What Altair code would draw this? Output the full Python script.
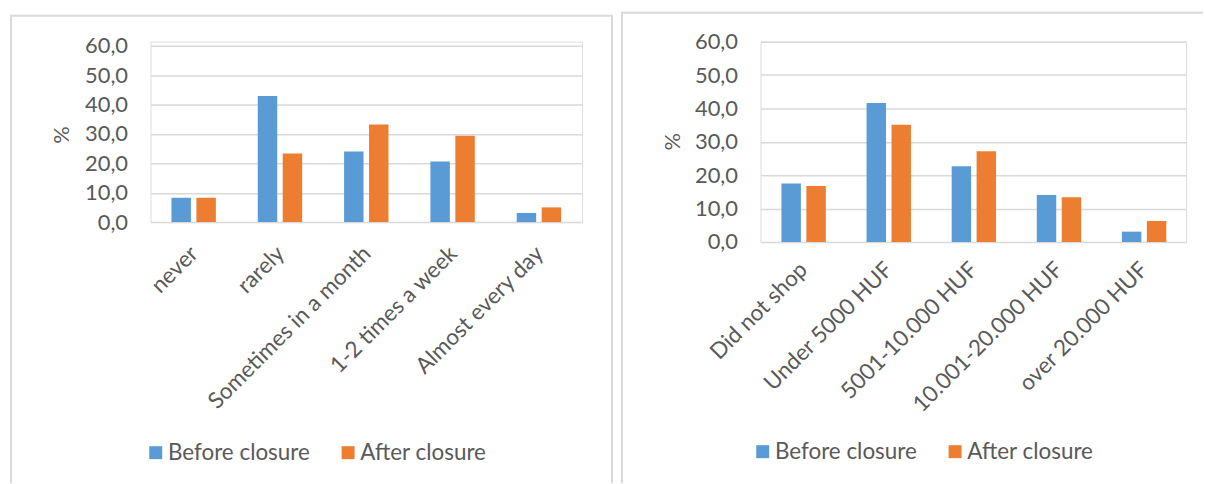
import altair as alt
import pandas as pd

# Survey results: share of respondents (%) before and after the closure
periods = ["Before closure", "After closure"]
period_colors = ["#5B9BD5", "#ED7D31"]

freq_categories = ["never", "rarely", "Sometimes in a month", "1-2 times a week", "Almost every day"]
freq_before = [8.3, 42.9, 24.0, 20.6, 3.1]
freq_after = [8.3, 23.3, 33.2, 29.4, 5.0]

spend_categories = ["Did not shop", "Under 5000 HUF", "5001-10.000 HUF", "10.001-20.000 HUF", "over 20.000 HUF"]
spend_before = [17.5, 41.6, 22.7, 14.1, 3.1]
spend_after = [16.8, 35.1, 27.2, 13.4, 6.3]

y_ticks = [0, 10, 20, 30, 40, 50, 60]

FONT = "Lato"
TEXT = "#595959"
GRID = "#D9D9D9"
FRAME = "#D9D9D9"


def long_table(categories, before, after):
    rows = []
    for cat, b, a in zip(categories, before, after):
        rows.append({"category": cat, "period": periods[0], "value": b})
        rows.append({"category": cat, "period": periods[1], "value": a})
    return pd.DataFrame(rows)


def frame_rule(x, x2=None, y=None, y2=None):
    enc = {"x": alt.value(x), "y": alt.value(y)}
    if x2 is not None:
        enc["x2"] = alt.value(x2)
    if y2 is not None:
        enc["y2"] = alt.value(y2)
    return (
        alt.Chart(pd.DataFrame({"k": [0]}))
        .mark_rule(color=FRAME, strokeWidth=2)
        .encode(**enc)
    )


def panel(categories, before, after, width, height, ymax,
          title_x, title_y, legend_x, legend_y, legend_gap,
          label_pad, frame_rules):
    df = long_table(categories, before, after)
    bars = (
        alt.Chart(df)
        .mark_bar()
        .encode(
            x=alt.X(
                "category:N",
                sort=categories,
                scale=alt.Scale(paddingInner=0, paddingOuter=0),
                axis=alt.Axis(
                    title=None,
                    labelAngle=315,
                    labelFont=FONT,
                    labelFontSize=22.5,
                    labelColor=TEXT,
                    labelPadding=label_pad,
                    labelOffset=-7,
                    domain=False,
                    ticks=False,
                    labelOverlap=False,
                    labelLimit=400,
                ),
            ),
            xOffset=alt.XOffset(
                "period:N",
                sort=periods,
                scale=alt.Scale(paddingInner=0.22, paddingOuter=0.84),
            ),
            y=alt.Y(
                "value:Q",
                scale=alt.Scale(domain=[0, ymax], nice=False, zero=True),
                axis=alt.Axis(
                    title="%",
                    values=y_ticks,
                    labelExpr="replace(format(datum.value, '.1f'), '.', ',')",
                    labelFont=FONT,
                    labelFontSize=22,
                    labelColor=TEXT,
                    labelPadding=23,
                    titleFont=FONT,
                    titleFontSize=22,
                    titleFontWeight="normal",
                    titleColor=TEXT,
                    titleAngle=270,
                    titleX=title_x,
                    titleY=title_y,
                    titleAlign="center",
                    titleBaseline="middle",
                    domain=False,
                    ticks=False,
                    grid=True,
                    gridColor=GRID,
                    gridWidth=1.5,
                ),
            ),
            color=alt.Color(
                "period:N",
                sort=periods,
                scale=alt.Scale(domain=periods, range=period_colors),
                legend=alt.Legend(
                    title=None,
                    orient="none",
                    legendX=legend_x,
                    legendY=legend_y,
                    direction="horizontal",
                    symbolType="square",
                    symbolSize=169,
                    symbolStrokeWidth=0,
                    labelFont=FONT,
                    labelFontSize=22.5,
                    labelColor=TEXT,
                    labelOffset=1,
                    columnPadding=legend_gap,
                    padding=0,
                ),
            ),
        )
    )
    return alt.layer(bars, *frame_rules).properties(width=width, height=height)


left = panel(
    freq_categories, freq_before, freq_after,
    width=433, height=181, ymax=61.4,
    title_x=-89, title_y=93, legend_x=-6, legend_y=401, legend_gap=27,
    label_pad=20,
    frame_rules=[
        frame_rule(-140, y=-26, y2=443),
        frame_rule(463, y=-26, y2=443),
        frame_rule(-141, x2=464, y=-26),
    ],
)

right = panel(
    spend_categories, spend_before, spend_after,
    width=427, height=201, ymax=60,
    title_x=-88, title_y=100, legend_x=-9, legend_y=400, legend_gap=27,
    label_pad=16,
    frame_rules=[
        frame_rule(-139, y=-29, y2=443),
        frame_rule(-140, x2=444, y=-29),
    ],
)

chart = (
    alt.hconcat(left, right, spacing=179, bounds="flush")
    .resolve_scale(color="independent", x="independent", y="independent")
    .resolve_legend(color="independent")
    .properties(padding={"left": 8, "top": 10, "right": 0, "bottom": 0})
    .configure_view(stroke=None)
    .configure(background="white")
)

chart.save("out.html", embed_options={"renderer": "svg", "actions": False})
